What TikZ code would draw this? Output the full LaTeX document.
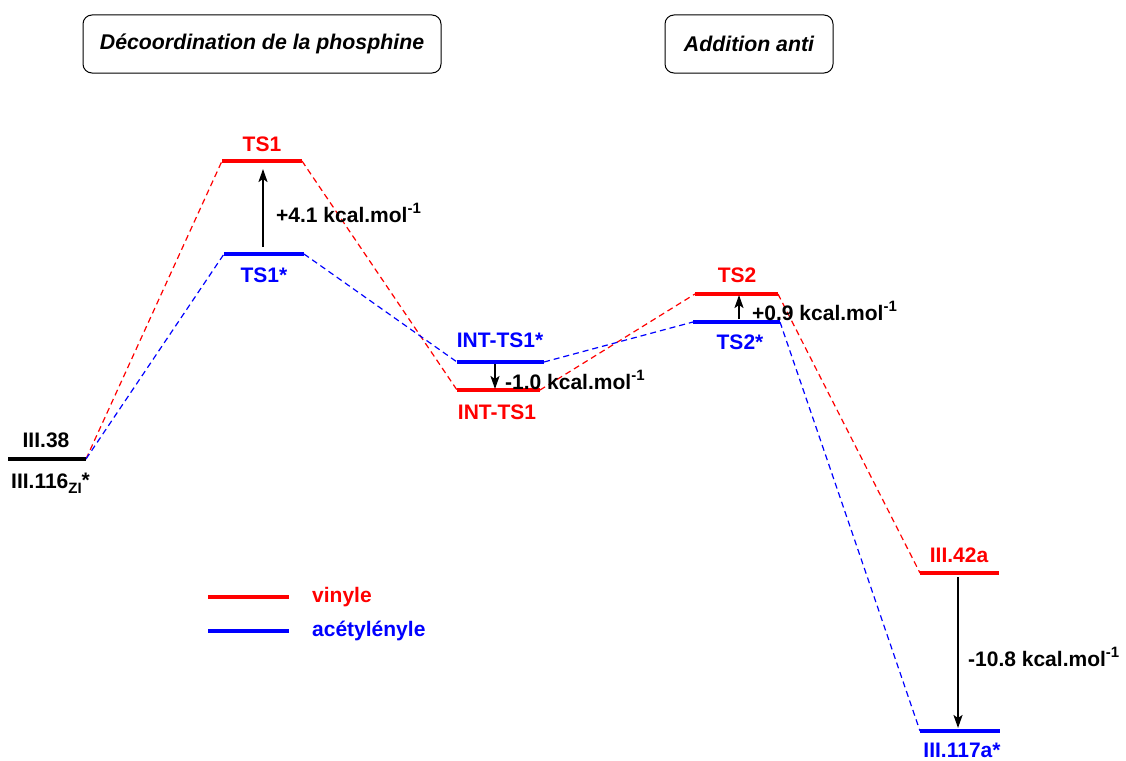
\documentclass[tikz,border=0pt]{standalone}
\usepackage{fontspec}
\setmainfont{Liberation Sans}
\usetikzlibrary{arrows.meta}
\definecolor{cred}{RGB}{255,0,0}
\definecolor{cblue}{RGB}{0,0,255}
\newcommand{\mysup}[1]{\raisebox{0.75ex}{\fontsize{15}{17}\selectfont #1}}
\begin{document}
\begin{tikzpicture}[x=1pt,y=-1pt,
  font=\fontsize{21}{25}\selectfont\bfseries,
  lvl/.style={line width=4pt},
  conn/.style={line width=1.2pt,dash pattern=on 6pt off 4pt},
  diff/.style={line width=2pt,-{Stealth[length=13pt,width=9pt,inset=3pt]}},
  lab/.style={inner sep=0pt},
  titlebox/.style={draw,rounded corners=9pt,line width=1pt,minimum width=358pt,minimum height=58pt,font=\fontsize{21.3}{25}\selectfont\bfseries\itshape},
]
\useasboundingbox (0,0) rectangle (1126,760);

% boxes
\node[titlebox] (b1) at (262,44) {Décoordination de la phosphine};
\node[titlebox,minimum width=168pt] (b2) at (749,44) {Addition anti};

% level coordinates
\coordinate (s1) at (8,459);   \coordinate (s2) at (86,459);
\coordinate (r1a) at (222,161); \coordinate (r1b) at (302,161);
\coordinate (b1a) at (224,254); \coordinate (b1b) at (304,254);
\coordinate (bi1) at (457,362); \coordinate (bi2) at (544,362);
\coordinate (ri1) at (457,390); \coordinate (ri2) at (540,390);
\coordinate (r2a) at (695,294); \coordinate (r2b) at (778,294);
\coordinate (b2a) at (693,322); \coordinate (b2b) at (780,322);
\coordinate (r3a) at (920,573); \coordinate (r3b) at (999,573);
\coordinate (b3a) at (920,731); \coordinate (b3b) at (1000,731);

% dashed connectors
\draw[conn,cred] (s2) -- (r1a);
\draw[conn,cred] (r1b) -- (ri1);
\draw[conn,cred] (ri2) -- (r2a);
\draw[conn,cred] (r2b) -- (r3a);
\draw[conn,cblue] (s2) -- (b1a);
\draw[conn,cblue] (b1b) -- (bi1);
\draw[conn,cblue] (bi2) -- (b2a);
\draw[conn,cblue] (b2b) -- (b3a);

% levels
\draw[lvl,black] (s1) -- (s2);
\draw[lvl,cred] (r1a) -- (r1b);
\draw[lvl,cblue] (b1a) -- (b1b);
\draw[lvl,cblue] (bi1) -- (bi2);
\draw[lvl,cred] (ri1) -- (ri2);
\draw[lvl,cred] (r2a) -- (r2b);
\draw[lvl,cblue] (b2a) -- (b2b);
\draw[lvl,cred] (r3a) -- (r3b);
\draw[lvl,cblue] (b3a) -- (b3b);

% level labels
\node[lab] (l38) at (46,440) {III.38};
\node[lab,anchor=west] (l116) at (11,483) {III.116\raisebox{-0.4ex}{\fontsize{15}{17}\selectfont ZI}\raisebox{0.1ex}{*}};
\node[lab,text=cred] (lts1) at (262,144) {TS1};
\node[lab,text=cblue] (lts1s) at (264,275) {TS1*};
\node[lab,text=cblue] (lint1s) at (500,340) {INT-TS1*};
\node[lab,text=cred] (lint1) at (497,412) {INT-TS1};
\node[lab,text=cred] (lts2) at (737,275) {TS2};
\node[lab,text=cblue] (lts2s) at (740,342) {TS2*};
\node[lab,text=cred] (l42) at (959,555) {III.42a};
\node[lab,text=cblue] (l117) at (962,750) {III.117a*};

% difference arrows
\coordinate (d1a) at (263,247); \coordinate (d1b) at (263,169);
\coordinate (d2a) at (495,364); \coordinate (d2b) at (495,389);
\coordinate (d3a) at (739,319); \coordinate (d3b) at (739,295);
\coordinate (d4a) at (958,577); \coordinate (d4b) at (958,728);
\draw[diff] (d1a) -- (d1b);
\draw[diff] (d2a) -- (d2b);
\draw[diff] (d3a) -- (d3b);
\draw[diff] (d4a) -- (d4b);
\node[lab,anchor=west] (e1) at (276,213) {+4.1 kcal.mol\mysup{-1}};
\node[lab,anchor=west] (e2) at (505,380) {-1.0 kcal.mol\mysup{-1}};
\node[lab,anchor=west] (e3) at (752,311) {+0.9 kcal.mol\mysup{-1}};
\node[lab,anchor=west] (e4) at (968,657) {-10.8 kcal.mol\mysup{-1}};

% legend
\coordinate (g1a) at (208,597); \coordinate (g1b) at (289,597);
\coordinate (g2a) at (208,631); \coordinate (g2b) at (289,631);
\draw[lvl,cred] (g1a) -- (g1b);
\draw[lvl,cblue] (g2a) -- (g2b);
\node[lab,anchor=west,text=cred] (gv) at (312,597) {vinyle};
\node[lab,anchor=west,text=cblue] (ga) at (312,631) {acétylényle};
\end{tikzpicture}
\end{document}
